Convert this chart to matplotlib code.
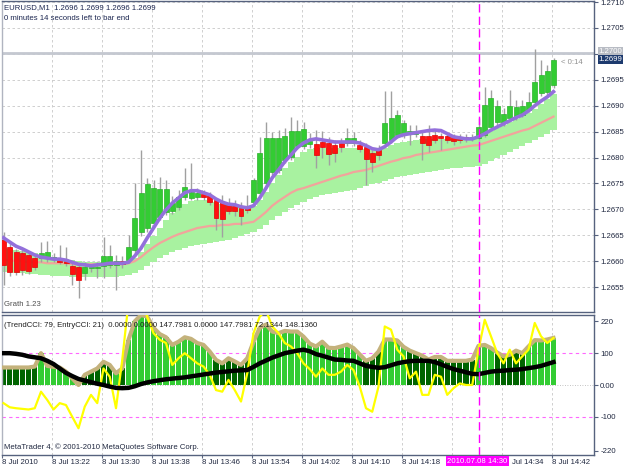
import matplotlib
matplotlib.use('Agg')
import matplotlib.pyplot as plt
import numpy as np

plt.rcParams['font.family'] = ['Liberation Sans', 'DejaVu Sans']

# ---------------- data (EURUSD M1, 8 Jul 2010 13:14 - 14:42) ----------------
opens = [1.26641, 1.26627, 1.26618, 1.26616, 1.26612, 1.26606, 1.26606, 1.26606, 1.26604, 1.26606,
         1.26600, 1.26591, 1.26589, 1.26577, 1.26587, 1.26587, 1.26591, 1.26593, 1.26593, 1.26600,
         1.26602, 1.26622, 1.26656, 1.26664, 1.26674, 1.26685, 1.26695, 1.26697, 1.26705, 1.26724,
         1.26722, 1.26724, 1.26730, 1.26728, 1.26718, 1.26714, 1.26710, 1.26707, 1.26703, 1.26703,
         1.26714, 1.26732, 1.26751, 1.26772, 1.26776, 1.26795, 1.26801, 1.26823, 1.26823, 1.26826,
         1.26826, 1.26830, 1.26828, 1.26824, 1.26828, 1.26828, 1.26828, 1.26824, 1.26821, 1.26809,
         1.26815, 1.26828, 1.26834, 1.26844, 1.26844, 1.26846, 1.26846, 1.26842, 1.26842, 1.26844,
         1.26842, 1.26842, 1.26840, 1.26840, 1.26840, 1.26838, 1.26838, 1.26844, 1.26859, 1.26869,
         1.26867, 1.26877, 1.26879, 1.26882, 1.26892, 1.26908, 1.26925, 1.26927, 1.26940]
closes = [1.26593, 1.26579, 1.26579, 1.26583, 1.26581, 1.26589, 1.26616, 1.26618, 1.26608, 1.26598,
          1.26596, 1.26575, 1.26564, 1.26589, 1.26589, 1.26589, 1.26610, 1.26610, 1.26600, 1.26594,
          1.26627, 1.26683, 1.26732, 1.26749, 1.26741, 1.26739, 1.26739, 1.26712, 1.26724, 1.26743,
          1.26734, 1.26732, 1.26724, 1.26714, 1.26683, 1.26681, 1.26697, 1.26697, 1.26687, 1.26699,
          1.26757, 1.26809, 1.26838, 1.26838, 1.26838, 1.26842, 1.26852, 1.26852, 1.26855, 1.26832,
          1.26805, 1.26821, 1.26807, 1.26809, 1.26821, 1.26838, 1.26838, 1.26817, 1.26797, 1.26792,
          1.26805, 1.26867, 1.26877, 1.26882, 1.26867, 1.26852, 1.26852, 1.26828, 1.26824, 1.26834,
          1.26838, 1.26834, 1.26832, 1.26834, 1.26836, 1.26840, 1.26859, 1.26902, 1.26915, 1.26900,
          1.26884, 1.26900, 1.26898, 1.26900, 1.26908, 1.26946, 1.26960, 1.26967, 1.26988]
highs = [1.26656, 1.26635, 1.26624, 1.26622, 1.26618, 1.26614, 1.26637, 1.26639, 1.26616, 1.26631,
         1.26627, 1.26598, 1.26593, 1.26598, 1.26594, 1.26598, 1.26647, 1.26631, 1.26612, 1.26610,
         1.26651, 1.26751, 1.26815, 1.26761, 1.26757, 1.26763, 1.26757, 1.26726, 1.26738, 1.26780,
         1.26790, 1.26741, 1.26738, 1.26734, 1.26722, 1.26728, 1.26722, 1.26718, 1.26714, 1.26728,
         1.26761, 1.26840, 1.26869, 1.26850, 1.26853, 1.26857, 1.26879, 1.26873, 1.26869, 1.26848,
         1.26853, 1.26852, 1.26840, 1.26834, 1.26838, 1.26857, 1.26850, 1.26834, 1.26828, 1.26815,
         1.26824, 1.26929, 1.26929, 1.26892, 1.26873, 1.26863, 1.26863, 1.26850, 1.26863, 1.26853,
         1.26848, 1.26846, 1.26846, 1.26846, 1.26846, 1.26846, 1.26877, 1.26936, 1.26931, 1.26911,
         1.26896, 1.26931, 1.26911, 1.26911, 1.26927, 1.27010, 1.26989, 1.26979, 1.26992]
lows = [1.26554, 1.26571, 1.26573, 1.26573, 1.26575, 1.26583, 1.26598, 1.26598, 1.26598, 1.26594,
        1.26591, 1.26554, 1.26529, 1.26564, 1.26579, 1.26567, 1.26567, 1.26587, 1.26544, 1.26587,
        1.26596, 1.26614, 1.26649, 1.26656, 1.26668, 1.26680, 1.26689, 1.26691, 1.26699, 1.26718,
        1.26718, 1.26718, 1.26718, 1.26709, 1.26660, 1.26647, 1.26691, 1.26687, 1.26670, 1.26693,
        1.26709, 1.26726, 1.26745, 1.26767, 1.26770, 1.26790, 1.26795, 1.26817, 1.26817, 1.26819,
        1.26780, 1.26799, 1.26786, 1.26792, 1.26811, 1.26823, 1.26823, 1.26811, 1.26747, 1.26772,
        1.26795, 1.26823, 1.26828, 1.26838, 1.26838, 1.26824, 1.26840, 1.26795, 1.26811, 1.26828,
        1.26815, 1.26828, 1.26824, 1.26828, 1.26830, 1.26832, 1.26834, 1.26840, 1.26853, 1.26863,
        1.26861, 1.26873, 1.26873, 1.26879, 1.26888, 1.26902, 1.26919, 1.26921, 1.26935]

ma_fast = [1.26645, 1.26637, 1.26629, 1.26624, 1.26618, 1.26612, 1.26608, 1.26606, 1.26604, 1.26604,
           1.26602, 1.26598, 1.26594, 1.26593, 1.26591, 1.26593, 1.26594, 1.26596, 1.26596, 1.26596,
           1.26598, 1.26610, 1.26625, 1.26645, 1.26664, 1.26683, 1.26699, 1.26712, 1.26722, 1.26732,
           1.26736, 1.26736, 1.26732, 1.26728, 1.26720, 1.26714, 1.26710, 1.26709, 1.26705, 1.26703,
           1.26707, 1.26722, 1.26741, 1.26761, 1.26776, 1.26792, 1.26805, 1.26819, 1.26828, 1.26834,
           1.26836, 1.26834, 1.26832, 1.26830, 1.26830, 1.26830, 1.26830, 1.26828, 1.26823, 1.26817,
           1.26815, 1.26821, 1.26830, 1.26840, 1.26844, 1.26846, 1.26848, 1.26850, 1.26852, 1.26853,
           1.26852, 1.26846, 1.26840, 1.26838, 1.26836, 1.26836, 1.26840, 1.26846, 1.26853, 1.26859,
           1.26865, 1.26871, 1.26877, 1.26882, 1.26890, 1.26900, 1.26909, 1.26917, 1.26927]
ma_slow = [1.26602, 1.26602, 1.26600, 1.26600, 1.26598, 1.26598, 1.26598, 1.26596, 1.26596, 1.26596,
           1.26596, 1.26594, 1.26594, 1.26594, 1.26594, 1.26594, 1.26594, 1.26594, 1.26594, 1.26594,
           1.26596, 1.26600, 1.26608, 1.26618, 1.26627, 1.26635, 1.26641, 1.26647, 1.26652, 1.26656,
           1.26660, 1.26664, 1.26666, 1.26668, 1.26668, 1.26670, 1.26670, 1.26672, 1.26672, 1.26674,
           1.26676, 1.26685, 1.26695, 1.26707, 1.26716, 1.26724, 1.26732, 1.26738, 1.26741, 1.26745,
           1.26749, 1.26753, 1.26757, 1.26761, 1.26765, 1.26768, 1.26772, 1.26774, 1.26776, 1.26780,
           1.26784, 1.26788, 1.26792, 1.26795, 1.26799, 1.26801, 1.26805, 1.26807, 1.26809, 1.26811,
           1.26813, 1.26815, 1.26817, 1.26819, 1.26821, 1.26823, 1.26824, 1.26828, 1.26832, 1.26836,
           1.26840, 1.26844, 1.26848, 1.26852, 1.26855, 1.26861, 1.26867, 1.26873, 1.26879]
band_top = [1.26625, 1.26624, 1.26622, 1.26620, 1.26618, 1.26616, 1.26612, 1.26610, 1.26608, 1.26606,
            1.26604, 1.26602, 1.26600, 1.26598, 1.26598, 1.26598, 1.26598, 1.26598, 1.26598, 1.26598,
            1.26600, 1.26606, 1.26618, 1.26633, 1.26649, 1.26664, 1.26680, 1.26693, 1.26703, 1.26710,
            1.26716, 1.26718, 1.26718, 1.26716, 1.26714, 1.26710, 1.26709, 1.26707, 1.26705, 1.26703,
            1.26707, 1.26718, 1.26734, 1.26751, 1.26767, 1.26780, 1.26792, 1.26801, 1.26811, 1.26817,
            1.26819, 1.26819, 1.26819, 1.26819, 1.26819, 1.26819, 1.26819, 1.26819, 1.26817, 1.26815,
            1.26815, 1.26819, 1.26824, 1.26828, 1.26830, 1.26832, 1.26834, 1.26836, 1.26836, 1.26836,
            1.26836, 1.26836, 1.26836, 1.26836, 1.26836, 1.26836, 1.26838, 1.26844, 1.26852, 1.26857,
            1.26863, 1.26869, 1.26875, 1.26880, 1.26886, 1.26894, 1.26904, 1.26913, 1.26923]
band_bot = [1.26579, 1.26579, 1.26577, 1.26577, 1.26575, 1.26575, 1.26573, 1.26573, 1.26571, 1.26571,
            1.26571, 1.26569, 1.26569, 1.26569, 1.26569, 1.26569, 1.26569, 1.26569, 1.26569, 1.26571,
            1.26573, 1.26577, 1.26583, 1.26591, 1.26598, 1.26606, 1.26612, 1.26618, 1.26622, 1.26625,
            1.26629, 1.26631, 1.26633, 1.26635, 1.26637, 1.26639, 1.26641, 1.26645, 1.26649, 1.26652,
            1.26656, 1.26662, 1.26670, 1.26680, 1.26687, 1.26695, 1.26703, 1.26709, 1.26714, 1.26720,
            1.26724, 1.26728, 1.26730, 1.26732, 1.26734, 1.26736, 1.26738, 1.26741, 1.26745, 1.26749,
            1.26751, 1.26755, 1.26759, 1.26763, 1.26765, 1.26767, 1.26768, 1.26770, 1.26772, 1.26774,
            1.26776, 1.26778, 1.26780, 1.26780, 1.26782, 1.26782, 1.26784, 1.26788, 1.26794, 1.26799,
            1.26805, 1.26811, 1.26817, 1.26823, 1.26828, 1.26834, 1.26840, 1.26846, 1.26853]

trend_cci = [55, 55, 55, 55, 55, 58, 100, 60, 57, 55,
             42, 21, 0, 32, 42, 52, 73, 63, 37, 52,
             142, 200, 220, 215, 180, 160, 150, 126, 136, 150,
             145, 132, 126, 105, 79, 68, 84, 74, 63, 84,
             136, 180, 190, 168, 163, 170, 168, 168, 152, 130,
             121, 136, 117, 116, 121, 127, 116, 96, 76, 84,
             105, 143, 143, 140, 120, 108, 100, 92, 80, 88,
             88, 76, 76, 76, 76, 80, 123, 126, 116, 102,
             90, 95, 108, 100, 121, 141, 140, 143, 148]
trend_dark = [1, 1, 1, 1, 1, 1, 0, 0, 0, 0,
              0, 0, 1, 1, 1, 1, 1, 1, 0, 1,
              0, 0, 0, 0, 0, 0, 0, 0, 0, 0,
              0, 0, 0, 0, 1, 1, 1, 1, 1, 1,
              0, 0, 0, 0, 0, 0, 0, 0, 0, 0,
              0, 0, 0, 0, 0, 0, 0, 0, 1, 1,
              1, 0, 0, 0, 0, 1, 1, 1, 1, 1,
              1, 1, 1, 1, 1, 1, 0, 0, 0, 1,
              1, 1, 1, 1, 0, 0, 0, 0, 0]
entry_cci = [-57, -70, -73, -75, -77, -73, -21, -47, -77, -57,
             -63, -100, -136, -68, -31, -57, 52, 26, -73, 79,
             260, 300, 280, 214, 163, 142, 132, 63, 84, 100,
             84, 68, 58, 32, -16, -21, 16, -16, -52, 37,
             163, 215, 235, 184, 163, 132, 121, 100, 68, 50,
             26, 52, 32, 32, 42, 63, 47, -5, -73, -84,
             -5, 184, 174, 111, 90, 21, 42, -31, -31, 32,
             26, -31, -10, 5, 0, 0, 111, 205, 153, 100,
             68, 111, 68, 90, 111, 195, 153, 132, 148]
cci_ma = [100, 100, 98, 95, 90, 87, 84, 76, 66, 52,
          38, 28, 19, 14, 9, 4, 0, -5, -9, -10,
          -9, -4, 3, 8, 12, 15, 18, 20, 22, 24,
          27, 30, 33, 36, 39, 41, 43, 45, 46, 47,
          57, 68, 77, 86, 93, 100, 104, 108, 111, 106,
          97, 92, 86, 80, 79, 77, 76, 68, 60, 57,
          54, 56, 62, 68, 72, 75, 76, 76, 76, 72,
          65, 57, 50, 45, 40, 35, 34, 38, 42, 44,
          45, 47, 48, 50, 53, 56, 60, 66, 72]

price_ticks = [1.2655, 1.2660, 1.2665, 1.2670, 1.2675, 1.2680, 1.2685, 1.2690, 1.2695, 1.2700, 1.2705, 1.2710]
# the 14:26 label is hidden behind the cursor time box; 14:34 is partly covered (drawn separately)
time_labels = ["8 Jul 2010", "8 Jul 13:22", "8 Jul 13:30", "8 Jul 13:38", "8 Jul 13:46", "8 Jul 13:54",
               "8 Jul 14:02", "8 Jul 14:10", "8 Jul 14:18", "", "", "8 Jul 14:42"]
time_label_bars = [0, 8, 16, 24, 32, 40, 48, 56, 64, 72, 80, 88]
partial_label = "Jul 14:34"
marker_bar = 76
ask_price = 1.27002
bid_price = 1.2699

# ---------------- layout ----------------
W, H = 625, 469
FS = 5.6
fig = plt.figure(figsize=(6.25, 4.69), dpi=100, facecolor='white')


def fx(px):
    return px / W


def fy(py):
    return 1 - py / H


ax1 = fig.add_axes([fx(2), fy(312), fx(594) - fx(2), fy(1) - fy(312)])
ax2 = fig.add_axes([fx(2), fy(455), fx(594) - fx(2), fy(315) - fy(455)])

xs = np.arange(len(opens))
xl = (-0.24, 94.48)
spine_c = '#56627e'
txt_c = '#1c2650'
grid_c = '#c8c8c8'

for ax in (ax1, ax2):
    ax.set_xlim(*xl)
    ax.set_facecolor('white')
    for s in ax.spines.values():
        s.set_color(spine_c)
        s.set_linewidth(1)
    ax.spines['left'].set_color('#b0b4c0')
    for b in time_label_bars:
        ax.axvline(b - 0.2, color=grid_c, lw=0.6, ls=(0, (3, 3)), zorder=0)
    ax.axvline(marker_bar, color='#ff00ff', lw=1, ls=(0, (6, 3)), zorder=6)

# ---------------- main price panel ----------------
ax1.set_ylim(1.26502, 1.27102)
for p in price_ticks:
    ax1.axhline(p, color=grid_c, lw=0.6, ls=(0, (3, 3)), zorder=0)

o = np.array(opens); c = np.array(closes); h = np.array(highs); l = np.array(lows)
bt = np.array(band_top); bb = np.array(band_bot)
ax1.bar(xs, bt - bb, bottom=bb, width=1.0, color='#a8f2a0', edgecolor='none', zorder=1)
ax1.plot(xs, ma_slow, color='#f2a49c', lw=1.6, zorder=2)

ax1.vlines(xs, l, h, color='#a0a0a0', lw=1, zorder=3)
up = c >= o
body_low = np.minimum(o, c)
body_h = np.maximum(np.abs(c - o), 0.000012)
ax1.bar(xs[up], body_h[up], bottom=body_low[up], width=0.8, color='#33cc33',
        edgecolor='#2bb02b', lw=0.5, zorder=4)
ax1.bar(xs[~up], body_h[~up], bottom=body_low[~up], width=0.8, color='#ff1010',
        edgecolor='#e00000', lw=0.5, zorder=4)
ax1.plot(xs, ma_fast, color='#9370db', lw=2.6, zorder=5)

ax1.axhline(ask_price, color='#c4c8d0', lw=2, zorder=2)

ax1.set_xticks([])
ax1.yaxis.tick_right()
ax1.set_yticks(price_ticks)
ax1.set_yticklabels(["" if abs(p - 1.2700) < 1e-6 else f"{p:.4f}" for p in price_ticks])
ax1.tick_params(axis='y', right=True, left=False, length=3, width=0.8, pad=1.5,
                labelsize=FS, colors=spine_c, labelcolor='#202840')

ax1.text(1.008, ask_price + 0.00003, "1.2700", transform=ax1.get_yaxis_transform(), ha='left',
         va='center', fontsize=FS, color='white', zorder=10,
         bbox=dict(boxstyle='square,pad=0.1', fc='#b8bcc4', ec='none'), clip_on=False)
ax1.text(1.008, bid_price - 0.00001, "1.2699", transform=ax1.get_yaxis_transform(), ha='left',
         va='center', fontsize=FS, color='white', zorder=11,
         bbox=dict(boxstyle='square,pad=0.1', fc='#1d3a6e', ec='none'), clip_on=False)

fig.text(fx(4), fy(8), "EURUSD,M1  1.2696 1.2699 1.2696 1.2699", fontsize=FS, color=txt_c,
         ha='left', va='center')
fig.text(fx(4), fy(18), "0 minutes 14 seconds left to bar end", fontsize=FS, color=txt_c,
         ha='left', va='center')
fig.text(fx(4), fy(304), "Grath 1.23", fontsize=FS, color='#505050', ha='left', va='center')
fig.text(fx(561), fy(63), "< 0:14", fontsize=FS, color='#909090', ha='left', va='center')

# ---------------- indicator panel ----------------
ax2.set_ylim(-220, 220)
ax2.axhline(100, color='#ff66ff', lw=0.8, ls=(0, (3, 3)), zorder=1)
ax2.axhline(-100, color='#ff66ff', lw=0.8, ls=(0, (3, 3)), zorder=1)
ax2.axhline(0, color='#b0b0b0', lw=0.6, ls=(0, (1, 2)), zorder=1)

tc = np.array(trend_cci)
cols = ['#006400' if d else '#33cc33' for d in trend_dark]
ax2.bar(xs, tc, width=0.82, color=cols, edgecolor='none', zorder=2)
ax2.plot(xs, trend_cci, color='#c4b27c', lw=3, zorder=3, solid_joinstyle='round')
ax2.plot(xs, entry_cci, color='#ffff00', lw=1.6, zorder=4)
ax2.plot(xs, cci_ma, color='black', lw=3.2, zorder=5)

ax2.yaxis.tick_right()
ax2.set_yticks([200, 100, 0, -100, -206])
ax2.set_yticklabels(['220', '100', '0.00', '-100', '-220'])
ax2.tick_params(axis='y', right=True, left=False, length=3, width=0.8, pad=1.5,
                labelsize=FS, colors=spine_c, labelcolor='#202840')

ax2.set_xticks([b - 0.24 for b in time_label_bars])
ax2.set_xticklabels(time_labels)
ax2.tick_params(axis='x', length=2, width=0.8, pad=1, labelsize=FS, colors=spine_c, labelcolor='#202840')
for lbl in ax2.get_xticklabels():
    lbl.set_ha('left')

ax2.text(81.3, -0.03, partial_label, transform=ax2.get_xaxis_transform(),
         ha='left', va='top', fontsize=FS, color='#202840', clip_on=False)

ax2.text(marker_bar - 0.15, -0.02, "2010.07.08 14:30", transform=ax2.get_xaxis_transform(),
         ha='center', va='top', fontsize=FS, color='white', zorder=12, clip_on=False,
         bbox=dict(boxstyle='square,pad=0.2', fc='#ff00ff', ec='none'))

fig.text(fx(4), fy(325), "(TrendCCI: 79, EntryCCI: 21)  0.0000 0.0000 147.7981 0.0000 147.7981 72.1344 148.1360",
         fontsize=FS, color='#202020', ha='left', va='center', zorder=20)
fig.text(fx(4), fy(447), "MetaTrader 4, © 2001-2010 MetaQuotes Software Corp.", fontsize=FS,
         color='#202840', ha='left', va='center')

fig.savefig('out.png', dpi=100, facecolor='white')
